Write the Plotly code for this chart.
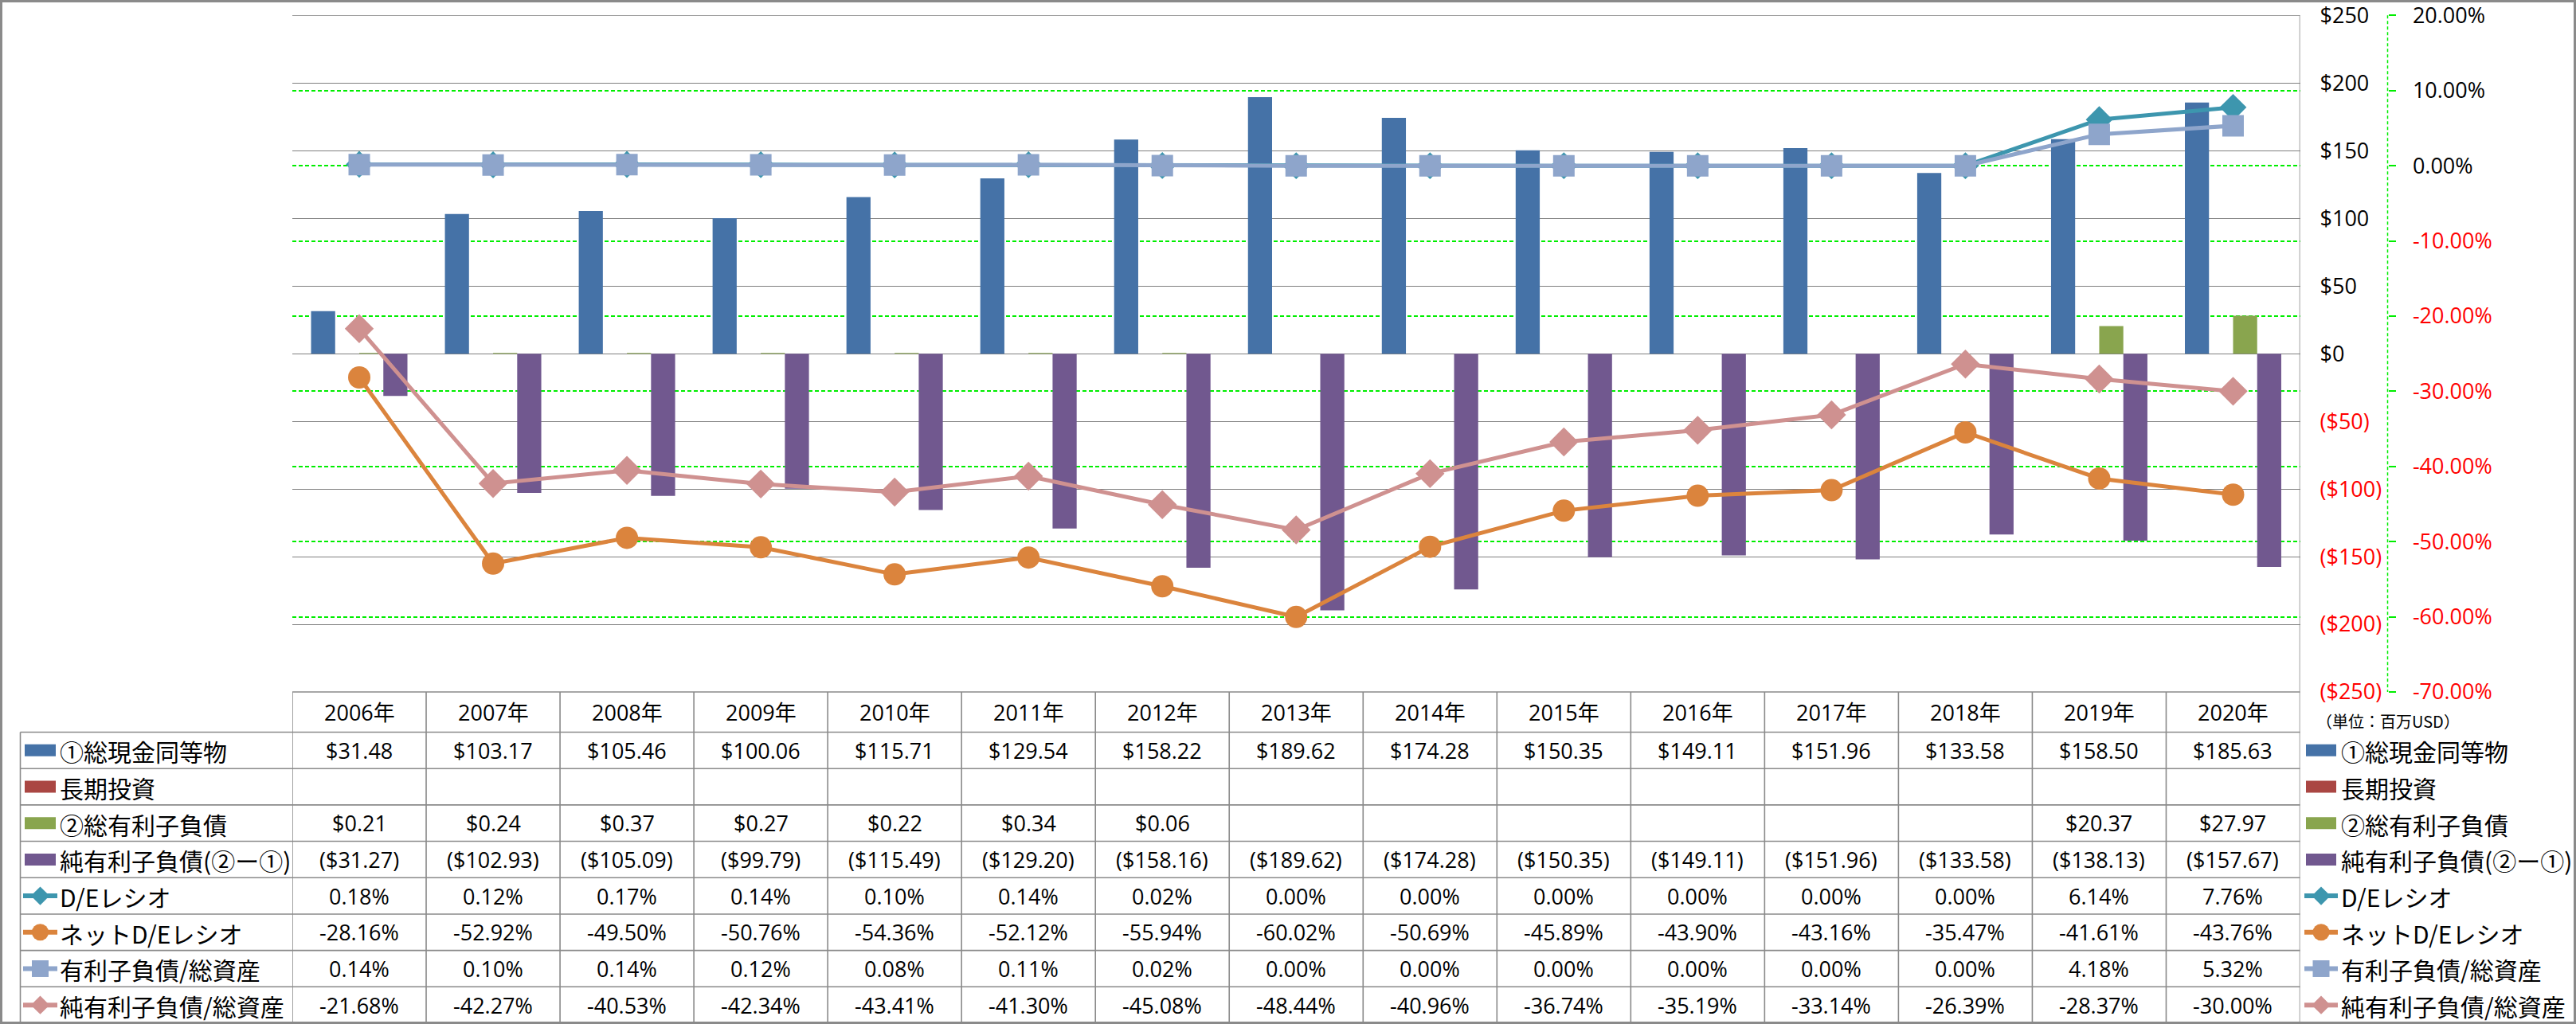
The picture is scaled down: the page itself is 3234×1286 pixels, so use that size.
import plotly.graph_objects as go

W, H = 3234, 1286

# ---------------- data ----------------
years = ["2006年", "2007年", "2008年", "2009年", "2010年", "2011年", "2012年", "2013年",
         "2014年", "2015年", "2016年", "2017年", "2018年", "2019年", "2020年"]
cash = [31.48, 103.17, 105.46, 100.06, 115.71, 129.54, 158.22, 189.62,
        174.28, 150.35, 149.11, 151.96, 133.58, 158.50, 185.63]
lt_invest = [None] * 15
debt = [0.21, 0.24, 0.37, 0.27, 0.22, 0.34, 0.06, None,
        None, None, None, None, None, 20.37, 27.97]
net_debt = [-31.27, -102.93, -105.09, -99.79, -115.49, -129.20, -158.16, -189.62,
            -174.28, -150.35, -149.11, -151.96, -133.58, -138.13, -157.67]
de_ratio = [0.18, 0.12, 0.17, 0.14, 0.10, 0.14, 0.02, 0.00,
            0.00, 0.00, 0.00, 0.00, 0.00, 6.14, 7.76]
net_de_ratio = [-28.16, -52.92, -49.50, -50.76, -54.36, -52.12, -55.94, -60.02,
                -50.69, -45.89, -43.90, -43.16, -35.47, -41.61, -43.76]
debt_to_assets = [0.14, 0.10, 0.14, 0.12, 0.08, 0.11, 0.02, 0.00,
                  0.00, 0.00, 0.00, 0.00, 0.00, 4.18, 5.32]
net_debt_to_assets = [-21.68, -42.27, -40.53, -42.34, -43.41, -41.30, -45.08, -48.44,
                      -40.96, -36.74, -35.19, -33.14, -26.39, -28.37, -30.00]

usd_tickvals = [250, 200, 150, 100, 50, 0, -50, -100, -150, -200, -250]
pct_tickvals = [20, 10, 0, -10, -20, -30, -40, -50, -60, -70]
unit_label = "（単位：百万USD）"

series_names = ["①総現金同等物", "長期投資", "②総有利子負債", "純有利子負債(②ー①)",
                "D/Eレシオ", "ネットD/Eレシオ", "有利子負債/総資産", "純有利子負債/総資産"]

# ---------------- styling ----------------
RED = "#ff0000"
GRID = "#7f7f7f"
TABLE_LINE = "#8a8a8a"
LIME = "#00ee00"
NUM_FONT = "Open Sans, Noto Sans CJK JP"
CJK_FONT = "Noto Sans CJK JP, Noto Sans"

series = [
    dict(name=series_names[0], vals=cash, kind="bar", color="#4572A7", fmt="usd"),
    dict(name=series_names[1], vals=lt_invest, kind="bar", color="#AA4643", fmt="usd"),
    dict(name=series_names[2], vals=debt, kind="bar", color="#89A54E", fmt="usd"),
    dict(name=series_names[3], vals=net_debt, kind="bar", color="#71588F", fmt="usd"),
    dict(name=series_names[4], vals=de_ratio, kind="line", color="#3D96AE", fmt="pct",
         symbol="diamond", size=26),
    dict(name=series_names[5], vals=net_de_ratio, kind="line", color="#DB843D", fmt="pct",
         symbol="circle", size=28),
    dict(name=series_names[6], vals=debt_to_assets, kind="line", color="#8EA5CB", fmt="pct",
         symbol="square", size=27),
    dict(name=series_names[7], vals=net_debt_to_assets, kind="line", color="#CF9190", fmt="pct",
         symbol="diamond", size=28),
]

# layout constants (pixels)
PLOT_L, PLOT_R, PLOT_T, PLOT_B = 367, 2887.5, 19.3, 869
TABLE_L, HEADER_B, TABLE_B = 25.5, 919.5, 1285
ROW_H = (TABLE_B - HEADER_B) / len(series)
AX2_X = 2997.5
EPS = 1e-3


def px(x):
    return x / W


def py(y):
    return 1 - y / H


def usd(v):
    return f"${v:,.2f}" if v >= 0 else f"(${-v:,.2f})"


def pct(v):
    return f"{v:.2f}%"


def usd_tick(v):
    return f"${v}" if v >= 0 else f"<span style='color:{RED}'>(${-v})</span>"


def pct_tick(v):
    return f"{v:.2f}%" if v >= 0 else f"<span style='color:{RED}'>{v:.2f}%</span>"


fig = go.Figure()

# bars
for s in series:
    if s["kind"] == "bar":
        fig.add_trace(go.Bar(x=years, y=s["vals"], name=s["name"], marker_color=s["color"],
                             marker_line_width=0, showlegend=False))
# lines
for s in series:
    if s["kind"] == "line":
        fig.add_trace(go.Scatter(x=years, y=s["vals"], name=s["name"], yaxis="y2",
                                 mode="lines+markers",
                                 line=dict(color=s["color"], width=5),
                                 marker=dict(symbol=s["symbol"], size=s["size"], color=s["color"]),
                                 showlegend=False))

shapes = []
annotations = []

# top border gridline of the plot area (at the max dollar tick)
shapes.append(dict(type="line", xref="paper", yref="y", x0=px(PLOT_L), x1=px(PLOT_R),
                   y0=max(usd_tickvals), y1=max(usd_tickvals), layer="below",
                   line=dict(color=GRID, width=1.4)))

# table horizontal lines
shapes.append(dict(type="line", xref="paper", yref="paper", x0=px(PLOT_L), x1=px(PLOT_R),
                   y0=py(PLOT_B), y1=py(PLOT_B), line=dict(color=TABLE_LINE, width=1.6)))
for k in range(len(series) + 1):
    yy = HEADER_B + k * ROW_H
    shapes.append(dict(type="line", xref="paper", yref="paper", x0=px(TABLE_L), x1=px(PLOT_R),
                       y0=py(yy), y1=py(yy), line=dict(color=TABLE_LINE, width=1.6)))
# table vertical lines
shapes.append(dict(type="line", xref="paper", yref="paper", x0=px(TABLE_L), x1=px(TABLE_L),
                   y0=py(HEADER_B), y1=py(TABLE_B), line=dict(color=TABLE_LINE, width=1.6)))
for i in range(len(years) + 1):
    top = PLOT_T if i == len(years) else PLOT_B
    shapes.append(dict(type="line", xref="x", yref="paper", x0=i - 0.5, x1=i - 0.5,
                       y0=py(top), y1=py(TABLE_B), line=dict(color=TABLE_LINE, width=1.6)))

# secondary axis dashed line
shapes.append(dict(type="line", xref="paper", yref="paper", x0=px(AX2_X), x1=px(AX2_X),
                   y0=py(PLOT_T), y1=py(PLOT_B), line=dict(color=LIME, width=1.5, dash="4px,3px")))

# outer frame
shapes.append(dict(type="rect", xref="paper", yref="paper", x0=px(1.5), x1=px(W - 1.5),
                   y0=py(H - 1.5), y1=py(1.5), line=dict(color="#8a8a8a", width=3)))

# header years
for i, yr in enumerate(years):
    annotations.append(dict(x=yr, xref="x", y=py((PLOT_B + HEADER_B) / 2), yref="paper",
                            text=yr, showarrow=False, xanchor="center", yanchor="middle",
                            font=dict(family=NUM_FONT, size=27, color="black")))

# table values and row labels / keys
key_traces = []
for k, s in enumerate(series):
    yc = HEADER_B + (k + 0.5) * ROW_H
    for i, yr in enumerate(years):
        v = s["vals"][i]
        if v is None:
            continue
        txt = usd(v) if s["fmt"] == "usd" else pct(v)
        annotations.append(dict(x=yr, xref="x", y=py(yc), yref="paper", text=txt,
                                showarrow=False, xanchor="center", yanchor="middle",
                                font=dict(family=NUM_FONT, size=27, color="black")))
    for (kx0, kx1, tx) in [(31, 70, 73), (2895, 2933, 2937)]:
        if s["kind"] == "bar":
            shapes.append(dict(type="rect", xref="paper", yref="paper", x0=px(kx0), x1=px(kx1),
                               y0=py(yc + 7.5), y1=py(yc - 7.5), fillcolor=s["color"],
                               line=dict(width=0)))
        else:
            key_traces.append((s, kx0 - 2, kx1 + 2, yc))
        annotations.append(dict(x=px(tx), xref="paper", y=py(yc + 1), yref="paper", text=s["name"],
                                showarrow=False, xanchor="left", yanchor="middle",
                                font=dict(family=CJK_FONT, size=30, color="black")))

# line/marker legend keys on a pixel overlay axis
for s, x0, x1, yc in key_traces:
    fig.add_trace(go.Scatter(x=[x0, (x0 + x1) / 2, x1], y=[yc, yc, yc], xaxis="x3", yaxis="y3",
                             mode="lines", line=dict(color=s["color"], width=6),
                             hoverinfo="skip", showlegend=False))
    fig.add_trace(go.Scatter(x=[(x0 + x1) / 2], y=[yc], xaxis="x3", yaxis="y3",
                             mode="markers",
                             marker=dict(symbol=s["symbol"], color=s["color"],
                                         size=18 if s["symbol"] == "diamond" else 21),
                             hoverinfo="skip", showlegend=False))

annotations.append(dict(x=px(2906), xref="paper", y=py(905), yref="paper", text=unit_label,
                        showarrow=False, xanchor="left", yanchor="middle",
                        font=dict(family=CJK_FONT, size=20, color="black")))

fig.update_layout(
    width=W, height=H,
    margin=dict(l=0, r=0, t=0, b=0, autoexpand=False),
    paper_bgcolor="white", plot_bgcolor="rgba(0,0,0,0)",
    barmode="group", bargap=0.28, bargroupgap=0,
    shapes=shapes, annotations=annotations,
    xaxis=dict(domain=[px(PLOT_L), px(PLOT_R)], type="category", range=[-0.5, len(years) - 0.5],
               showticklabels=False, showgrid=False, zeroline=False, showline=False, ticks="",
               automargin=False),
    yaxis=dict(domain=[py(PLOT_B), py(PLOT_T)], range=[-250 - EPS, 250 + EPS], side="right",
               tickvals=usd_tickvals, ticktext=[usd_tick(v) for v in usd_tickvals],
               showgrid=True, gridcolor=GRID, gridwidth=1.4, zeroline=False, showline=False,
               ticks="", ticklabelstandoff=24, ticklabeloverflow="allow", automargin=False,
               tickfont=dict(family=NUM_FONT, size=27, color="black")),
    yaxis2=dict(overlaying="y", side="right", anchor="free", position=px(AX2_X),
                range=[-70 - EPS, 20 + EPS], tickvals=pct_tickvals,
                ticktext=[pct_tick(v) for v in pct_tickvals],
                showgrid=True, gridcolor=LIME, gridwidth=1.5, griddash="5px,3px",
                zeroline=False, showline=False, ticks="outside", ticklen=9,
                tickcolor=LIME, tickwidth=1.5, ticklabelstandoff=16, ticklabeloverflow="allow",
                automargin=False,
                tickfont=dict(family=NUM_FONT, size=27, color="black")),
    xaxis3=dict(domain=[0, 1], range=[0, W], visible=False, anchor="y3", fixedrange=True,
                automargin=False),
    yaxis3=dict(domain=[0, 1], range=[H, 0], visible=False, anchor="x3", fixedrange=True,
                automargin=False),
)

fig.write_html("out.html")
